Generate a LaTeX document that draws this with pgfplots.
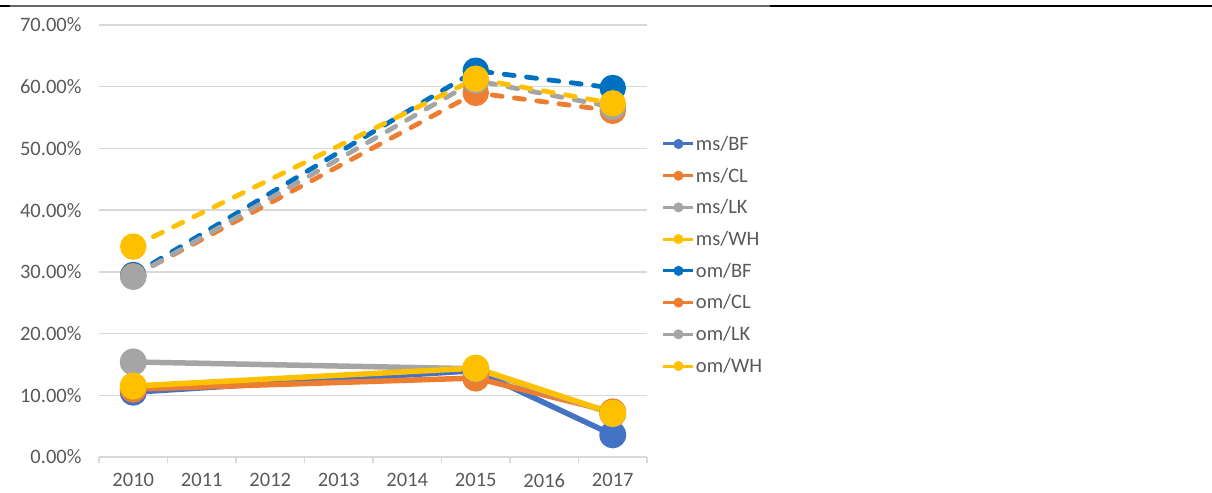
\documentclass[border=0pt]{standalone}
\usepackage{fontspec}
\setmainfont{Carlito}
\usepackage{pgfplots}
\pgfplotsset{compat=1.18}
\definecolor{msBF}{HTML}{4472C4}
\definecolor{msCL}{HTML}{ED7D31}
\definecolor{msLK}{HTML}{A5A5A5}
\definecolor{msWH}{HTML}{FFC000}
\definecolor{omBF}{HTML}{0070C0}
\definecolor{txt}{HTML}{595959}
\definecolor{gridc}{HTML}{D9D9D9}
\begin{document}
\begin{tikzpicture}
\useasboundingbox (0,0) rectangle (1212bp,493bp);
\draw[black!60, line width=1.2bp] (0,487bp) -- (770bp,487bp);
\draw[black, line width=2.5bp] (770bp,487bp) -- (1212bp,487bp);
\draw[black, line width=2.5bp] (0,487bp) -- (10bp,487bp);
\begin{axis}[
  at={(99bp,36bp)}, anchor=south west,
  scale only axis, width=548bp, height=432bp,
  xmin=-0.5, xmax=7.5, ymin=0, ymax=70,
  xtick={0,...,7},
  xticklabels={2010,2011,2012,2013,2014,2015,2016,2017},
  minor xtick={-0.5,0.5,...,7.5},
  ytick={0,10,...,70},
  yticklabel={\pgfmathprintnumber[fixed,fixed zerofill,precision=2]{\tick}\%},
  /pgf/number format/assume math mode=true,
  tick label style={font=\fontsize{20.5bp}{24bp}\selectfont, text=txt},
  major tick length=0pt,
  minor tick length=6bp,
  tick align=outside,
  minor x tick style={draw=gridc, line width=1.2bp},
  ymajorgrids, grid style={draw=gridc, line width=1.3bp},
  axis x line*=bottom, axis y line*=left,
  x axis line style={-, draw=gridc, line width=1.3bp},
  y axis line style={draw=none},
  yticklabel style={xshift=-14bp},
  xticklabel style={yshift=-15bp, inner ysep=1bp},
  clip=false,
  legend image code/.code={
    \draw[line width=3bp, #1] (0bp,0bp) -- (30bp,0bp);
    \fill[#1] (15bp,0bp) circle (4.8bp);
  },
  legend style={draw=none, fill=none, at={(1.027,0.4676)}, anchor=west,
    inner sep=0pt, row sep=14bp,
    font=\fontsize{20.5bp}{24bp}\selectfont, text=txt,
    nodes={inner sep=1bp}},
  legend cell align=left,
  every axis plot/.append style={mark=*, mark size=10.8bp, line join=round},
]
\pgfplotsset{
  solidser/.style={line width=5.5bp},
  dashser/.style={line width=4.8bp, line cap=round, dash pattern=on 10bp off 12.5bp, mark options={solid}},
}
\addplot[forget plot, solidser, color=msBF] coordinates {(0,10.5) (5,14.0) (7,3.6)};
\addplot[forget plot, solidser, color=msCL] coordinates {(0,11.0) (5,12.8) (7,7.3)};
\addplot[forget plot, solidser, color=msLK] coordinates {(0,15.4) (5,14.3) (7,7.0)};
\addplot[forget plot, solidser, color=msWH] coordinates {(0,11.5) (5,14.4) (7,7.1)};
\addplot[forget plot, dashser, color=omBF] coordinates {(0,29.5) (5,62.6) (7,59.8)};
\addplot[forget plot, dashser, color=msCL] coordinates {(0,29.3) (5,59.0) (7,56.1)};
\addplot[forget plot, dashser, color=msLK] coordinates {(0,29.2) (5,61.0) (7,56.7)};
\addplot[forget plot, dashser, color=msWH] coordinates {(0,34.1) (5,61.3) (7,57.3)};
\addlegendimage{color=msBF}\addlegendentry{ms/BF}
\addlegendimage{color=msCL}\addlegendentry{ms/CL}
\addlegendimage{color=msLK}\addlegendentry{ms/LK}
\addlegendimage{color=msWH}\addlegendentry{ms/WH}
\addlegendimage{color=omBF}\addlegendentry{om/BF}
\addlegendimage{color=msCL}\addlegendentry{om/CL}
\addlegendimage{color=msLK}\addlegendentry{om/LK}
\addlegendimage{color=msWH}\addlegendentry{om/WH}
\end{axis}
\end{tikzpicture}
\end{document}
